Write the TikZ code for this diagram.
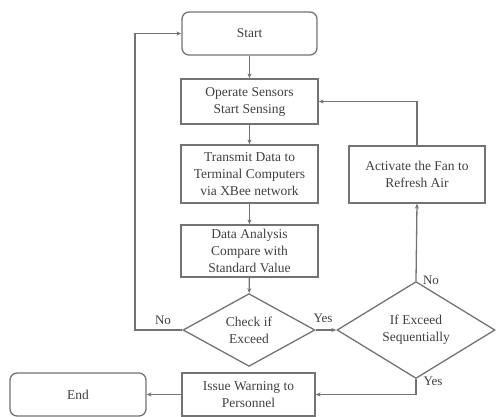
\documentclass[tikz,border=0pt]{standalone}
\usepackage{fontspec}
\setmainfont{Liberation Serif}
\usetikzlibrary{shapes.geometric,arrows.meta}
\begin{document}
\begin{tikzpicture}[x=1pt,y=-1pt,
  every node/.style={font=\fontsize{13.5}{17}\selectfont, text=black!75},
  box/.style={draw=black!55, line width=1.3pt, rectangle, align=center, inner sep=0pt},
  term/.style={box, rounded corners=7pt},
  dec/.style={draw=black!55, line width=1.3pt, diamond, align=center, inner sep=0pt},
  conn/.style={draw=black!55, line width=1.3pt, -{Stealth[length=5pt,width=4pt]}},
  lbl/.style={font=\fontsize{13}{15}\selectfont}]
\useasboundingbox (0,0) rectangle (496,416);
\node[term, minimum width=135pt, minimum height=43pt] (start) at (249.5,33.5) {Start};
\node[box, minimum width=137pt, minimum height=45pt] (op) at (249.5,101.5) {Operate Sensors\\Start Sensing};
\node[box, minimum width=137pt, minimum height=58pt] (tx) at (249.5,174) {Transmit Data to\\Terminal Computers\\via XBee network};
\node[box, minimum width=137pt, minimum height=52pt] (da) at (249.5,251) {Data Analysis\\Compare with\\Standard Value};
\node[dec, minimum width=132pt, minimum height=62pt] (chk) at (249,330) {Check if\\Exceed};
\node[dec, minimum width=158pt, minimum height=76pt] (exc) at (416,330) {If Exceed\\Sequentially};
\node[box, minimum width=136pt, minimum height=57pt] (fan) at (417,174.5) {Activate the Fan to\\Refresh Air};
\node[box, minimum width=133pt, minimum height=43pt] (warn) at (248.5,394.5) {Issue Warning to\\Personnel};
\node[term, minimum width=136pt, minimum height=43pt] (end) at (78,394.5) {End};
\coordinate (lc) at (135,330);
\draw[conn] (start) -- (op);
\draw[conn] (op) -- (tx);
\draw[conn] (tx) -- (da);
\draw[conn] (da) -- (chk);
\draw[conn] (chk.west) -- (lc) |- (start.west);
\draw[conn] (chk.east) -- (exc.west);
\draw[conn] (exc.north) -- (fan.south);
\draw[conn] (fan.north) |- (op.east);
\draw[conn] (exc.south) |- (warn.east);
\draw[conn] (warn.west) -- (end.east);
\node[lbl] (lno1) at (163,320) {No};
\node[lbl] (lyes1) at (323,318) {Yes};
\node[lbl] (lno2) at (431,280) {No};
\node[lbl] (lyes2) at (433,381) {Yes};
\end{tikzpicture}
\end{document}
